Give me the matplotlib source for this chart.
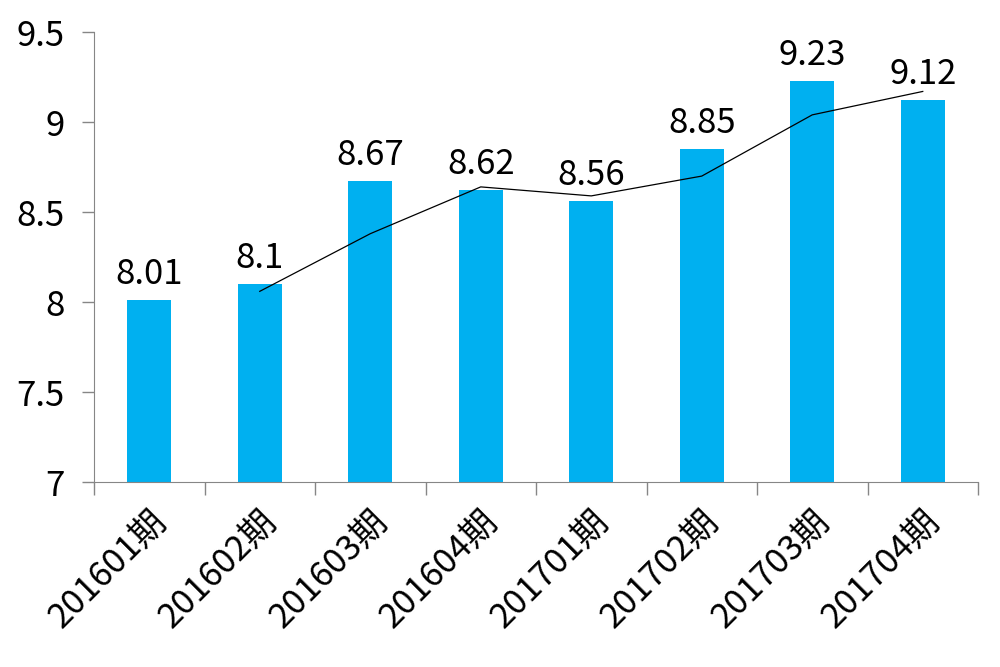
import matplotlib
matplotlib.use("Agg")
import matplotlib.pyplot as plt
from matplotlib.ticker import FixedLocator

plt.rcParams['font.family'] = ['Noto Sans CJK SC', 'DejaVu Sans']

# data
periods = ["201601期", "201602期", "201603期", "201604期",
           "201701期", "201702期", "201703期", "201704期"]
values = [8.01, 8.1, 8.67, 8.62, 8.56, 8.85, 9.23, 9.12]
# trend line (2-period moving average), starts at 2nd period
trend = [8.06, 8.38, 8.64, 8.59, 8.70, 9.04, 9.17]

fig = plt.figure(figsize=(10, 6.67), dpi=100)
ax = fig.add_axes([0.094, 0.277, 0.884, 0.675])

x = list(range(len(periods)))
ax.bar(x, values, width=0.4, color="#00B0F0", zorder=2)
ax.plot(x[1:], trend, color="black", linewidth=0.9, zorder=3)

for xi, v in zip(x, values):
    ax.text(xi, v + 0.045, f"{v:g}", ha="center", va="bottom", fontsize=25)

ax.set_ylim(7, 9.5)
ax.set_xlim(-0.5, len(periods) - 0.5)
ax.set_yticks([7, 7.5, 8, 8.5, 9, 9.5])
ax.set_yticklabels(["7", "7.5", "8", "8.5", "9", "9.5"], fontsize=25)

ax.set_xticks(x)
ax.set_xticklabels(periods, rotation=45, ha="right", rotation_mode="anchor", fontsize=25)
ax.tick_params(axis="x", which="major", length=0, pad=16)
ax.xaxis.set_minor_locator(FixedLocator([i - 0.5 for i in range(len(periods) + 1)]))
ax.tick_params(axis="x", which="minor", length=9, color="#868686", width=1)
ax.tick_params(axis="y", length=9, color="#868686", width=1, pad=12)

for s in ["top", "right"]:
    ax.spines[s].set_visible(False)
for s in ["left", "bottom"]:
    ax.spines[s].set_color("#868686")

fig.savefig("out.png", dpi=100)
